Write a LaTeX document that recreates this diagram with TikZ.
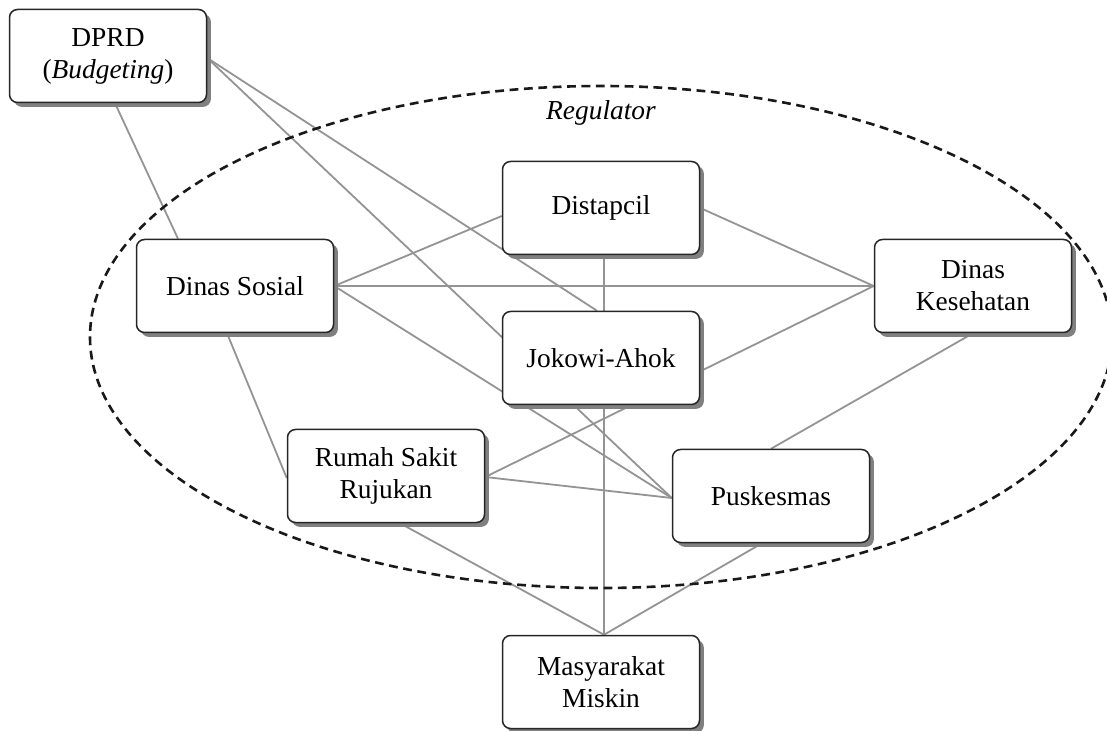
\documentclass[tikz,border=0pt]{standalone}
\usepackage{fontspec}
\setmainfont{Liberation Serif}
\usetikzlibrary{shadows,calc}
\pgfdeclarelayer{background}
\pgfsetlayers{background,main}
\begin{document}
\begin{tikzpicture}[x=0.5pt,y=-0.5pt,
  actor/.style={draw=black!85, line width=0.75pt, fill=white, rounded corners=4pt,
    minimum width=98.5pt, minimum height=46.5pt, inner sep=0pt, align=center,
    font=\fontsize{13.7}{16}\selectfont,
    drop shadow={shadow xshift=2.2pt, shadow yshift=-2.2pt, fill=black!50, opacity=1}},
  link/.style={draw=black!42, line width=0.9pt},
  region/.style={draw=black!90, line width=1.3pt, dash pattern=on 4.4pt off 2.8pt}]
\useasboundingbox (0,0) rectangle (1107,731);
\node[actor] (dprd) at (108,56) {DPRD\\(\textit{Budgeting})};
\node[actor] (dist) at (601,208) {Distapcil};
\node[actor] (sos) at (235,286) {Dinas Sosial};
\node[actor] (kes) at (973,286) {Dinas\\Kesehatan};
\node[actor] (jok) at (601,358) {Jokowi-Ahok};
\node[actor] (rs) at (386,476) {Rumah Sakit\\Rujukan};
\node[actor] (pus) at (771,496) {Puskesmas};
\node[actor] (mas) at (601,682) {Masyarakat\\Miskin};
\node[font=\fontsize{13.7}{16}\selectfont\itshape] (reg) at (601,113) {Regulator};
\begin{pgfonlayer}{background}
\coordinate (dprdE) at ($(dprd.east)+(0,2)$);
\coordinate (pusW) at ($(pus.west)+(0,2)$);
\coordinate (masN) at ($(mas.north)+(3,0)$);
\coordinate (rsE) at ($(rs.east)+(0,1)$);
\draw[link] ($(dprd.south)+(7,0)$) -- ($(sos.north)+(-57,0)$);
\draw[link] (dprdE) -- ($(jok.north)+(-4,0)$);
\draw[link] (dprdE) -- (pusW);
\draw[link] (sos.east) -- ($(dist.west)+(0,8)$);
\draw[link] (sos.east) -- (kes.west);
\draw[link] (sos.east) -- (pusW);
\draw[link] ($(dist.south)+(3,0)$) -- (masN);
\draw[link] (dist.east) -- (kes.west);
\draw[link] (rsE) -- (kes.west);
\draw[link] (rsE) -- (pusW);
\draw[link] ($(sos.south)+(-8,0)$) -- ($(rs.west)+(0,2)$);
\draw[link] (kes.south) -- (pus.north);
\draw[link] ($(rs.south)+(14,0)$) -- (masN);
\draw[link] ($(pus.south)+(-9,0)$) -- (masN);
\draw[region] (601,337) ellipse [x radius=511, y radius=251];
\end{pgfonlayer}
\end{tikzpicture}
\end{document}
